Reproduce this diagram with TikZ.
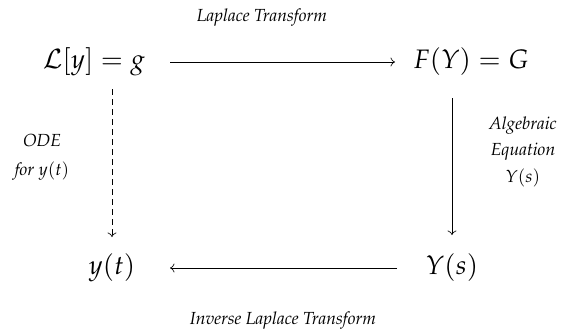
\documentclass[tikz,border=0pt]{standalone}
\usepackage[T1]{fontenc}
\usepackage{mathpazo}
\usetikzlibrary{arrows.meta}
\begin{document}
\begin{tikzpicture}[x=1pt,y=-1pt,
  big/.style={font=\fontsize{26.7}{32}\selectfont, inner sep=0pt},
  lbl/.style={font=\fontsize{17.5}{20}\selectfont\itshape, inner sep=0pt, align=center},
  arr/.style={-{Computer Modern Rightarrow[length=4.5pt,width=9pt]}, line width=0.65pt}]
\useasboundingbox (0,0) rectangle (563,330);
\node[big] (L) at (94,62) {$\mathcal{L}[y]=g$};
\node[big] (F) at (471,62) {$F(Y)=G$};
\node[big] (y) at (112,268) {$y(t)$};
\node[big] (Y) at (452,268) {$Y(s)$};
\node[lbl] (t1) at (262,18) {Laplace Transform};
\node[lbl] (t2) at (283,321) {Inverse Laplace Transform};
\node[lbl, font=\fontsize{17.5}{29}\selectfont\itshape] (t3) at (42,157.5) {ODE\\for $y(t)$};
\node[lbl, font=\fontsize{17.5}{26.5}\selectfont\itshape] (t4) at (523,151.5) {Algebraic\\Equation\\$Y(s)$};
\draw[arr] ([xshift=76pt]L.center) -- ([xshift=-76pt]F.center);
\draw[arr, dash pattern=on 6pt off 4pt] ([yshift=-27pt]y |- L.center) -- ([yshift=31pt]y.center);
\draw[arr] ([yshift=-36pt]Y |- F.center) -- ([yshift=33pt]Y.center);
\draw[arr] ([xshift=-55pt]Y.center) -- ([xshift=58pt]y.center);
\end{tikzpicture}
\end{document}
